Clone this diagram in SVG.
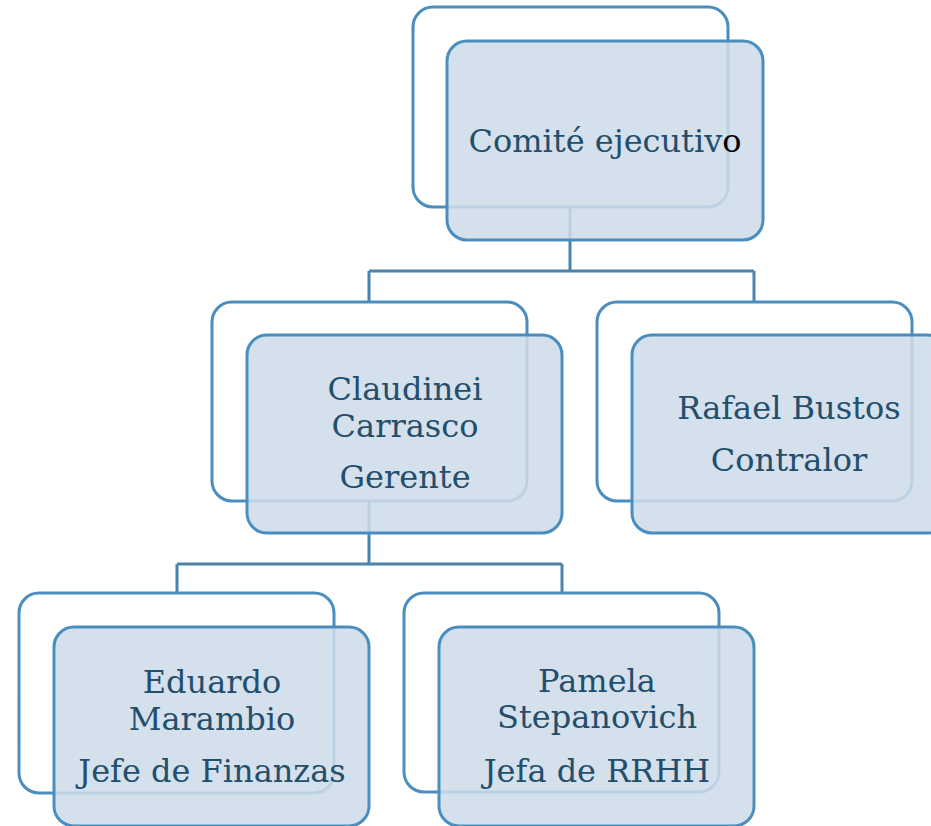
<svg xmlns="http://www.w3.org/2000/svg" width="931" height="826" viewBox="0 0 931 826">
<style>
.back{fill:#ffffff;stroke:#4a8ebf;stroke-width:3}
.front{fill:#cedbe9;fill-opacity:0.87;stroke:#4a8ebf;stroke-width:3}
.conn{fill:none;stroke:#4a83ad;stroke-width:3}
text{font-family:"DejaVu Serif","Liberation Serif",serif;font-size:32px;fill:#234e6c;text-anchor:middle}
</style>
<rect width="931" height="826" fill="#ffffff"/>
<g id="connectors">
<path class="conn" d="M570,207 V271 M369,271 H754 M369,271 V302 M754,271 V302"/>
<path class="conn" d="M369,501 V564 M177,564 H562 M177,564 V593 M562,564 V593"/>
</g>
<g id="node-comite">
<rect class="back" x="413" y="7" width="315" height="200" rx="20"/>
<rect class="front" x="447" y="41" width="316" height="199" rx="20"/>
<text x="605" y="152">Comité ejecutiv<tspan fill="#000000">o</tspan></text>
</g>
<g id="node-claudinei">
<rect class="back" x="212" y="302" width="315" height="199" rx="20"/>
<rect class="front" x="247" y="335" width="315" height="198" rx="20"/>
<text x="405" y="400">Claudinei</text>
<text x="405" y="437">Carrasco</text>
<text x="405" y="488">Gerente</text>
</g>
<g id="node-rafael">
<rect class="back" x="597" y="302" width="315" height="199" rx="20"/>
<rect class="front" x="632" y="335" width="316" height="198" rx="20"/>
<text x="789" y="419">Rafael Bustos</text>
<text x="789" y="471">Contralor</text>
</g>
<g id="node-eduardo">
<rect class="back" x="19" y="593" width="315" height="200" rx="20"/>
<rect class="front" x="54" y="627" width="315" height="199" rx="20"/>
<text x="212" y="693">Eduardo</text>
<text x="212" y="730">Marambio</text>
<text x="212" y="782">Jefe de Finanzas</text>
</g>
<g id="node-pamela">
<rect class="back" x="404" y="593" width="315" height="199" rx="20"/>
<rect class="front" x="439" y="627" width="315" height="199" rx="20"/>
<text x="597" y="692">Pamela</text>
<text x="597" y="728">Stepanovich</text>
<text x="597" y="782">Jefa de RRHH</text>
</g>
</svg>
